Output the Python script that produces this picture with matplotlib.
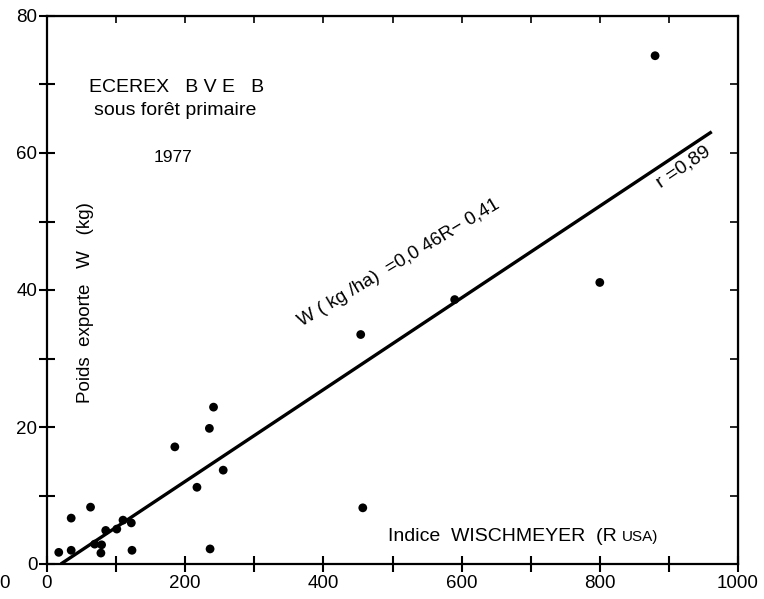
import matplotlib.pyplot as plt
import numpy as np

plt.rcParams['font.family'] = ['Liberation Sans', 'DejaVu Sans']

# points: R (Wischmeyer index), W (kg)
R_pts = [17, 35, 35, 63, 69, 79, 78, 85, 101, 110, 122, 123,
         185, 217, 235, 241, 236, 255, 454, 457, 590, 800, 880]
W_pts = [1.7, 6.7, 2.0, 8.3, 2.9, 2.8, 1.6, 4.9, 5.1, 6.4, 6.0, 2.0,
         17.1, 11.2, 19.8, 22.9, 2.2, 13.7, 33.5, 8.2, 38.6, 41.1, 74.2]

# regression line as drawn
line_R = [20, 962]
line_W = [0.0, 63.1]

xticks_major = [0, 200, 400, 600, 800, 1000]
yticks_major = [0, 20, 40, 60, 80]

fig = plt.figure(figsize=(7.64, 5.99), dpi=100)
ax = fig.add_axes([47/764, 1-564/599, (738-47)/764, (564-16)/599])

ax.plot(line_R, line_W, color='black', lw=2.4, solid_capstyle='butt')
ax.scatter(R_pts, W_pts, s=40, color='black', zorder=3, edgecolors='none')

ax.set_xlim(0, 1000)
ax.set_ylim(0, 80)

for s in ax.spines.values():
    s.set_linewidth(1.6)

ax.set_xticks(xticks_major)
ax.set_xticks(np.arange(100, 1000, 200), minor=True)
ax.set_yticks(yticks_major)
ax.set_yticks(np.arange(10, 80, 20), minor=True)
ax.tick_params(axis='both', which='both', direction='inout', length=12,
               width=1.5, labelsize=13.5, top=False, right=False)
ax.tick_params(axis='x', pad=2)
ax.tick_params(axis='y', pad=1)

top = ax.secondary_xaxis('top')
top.set_xticks(np.arange(0, 1001, 100))
top.tick_params(direction='in', length=5, width=1.2, labeltop=False)
right = ax.secondary_yaxis('right')
right.set_yticks(np.arange(0, 81, 10))
right.tick_params(direction='in', length=6, width=1.2, labelright=False)

# stray zero at the far left of the x axis
ax.text(-62, -1.6, '0', fontsize=13.5, ha='center', va='top')

ax.text(188, 69.5, 'ECEREX   B V E   B', fontsize=14, ha='center', va='center')
ax.text(186, 66.2, 'sous forêt primaire', fontsize=14, ha='center', va='center')
ax.text(182, 59.4, '1977', fontsize=12.5, ha='center', va='center')

ax.text(55, 38.2, 'Poids  exporte   W   (kg)', fontsize=13.5, rotation=90,
        ha='center', va='center')

ax.text(510, 44.0, 'W ( kg /ha)  =0,0 46R\u2212 0,41', fontsize=13.5,
        rotation=31, ha='center', va='center', rotation_mode='anchor')
ax.text(921, 57.9, 'r =0,89', fontsize=14, rotation=34,
        ha='center', va='center', rotation_mode='anchor')

ax.text(493, 4.0, 'Indice  WISCHMEYER  (R', fontsize=14, ha='left', va='center')
ax.text(832, 4.0, 'USA)', fontsize=11, ha='left', va='center')

fig.savefig('out.png', dpi=100)
